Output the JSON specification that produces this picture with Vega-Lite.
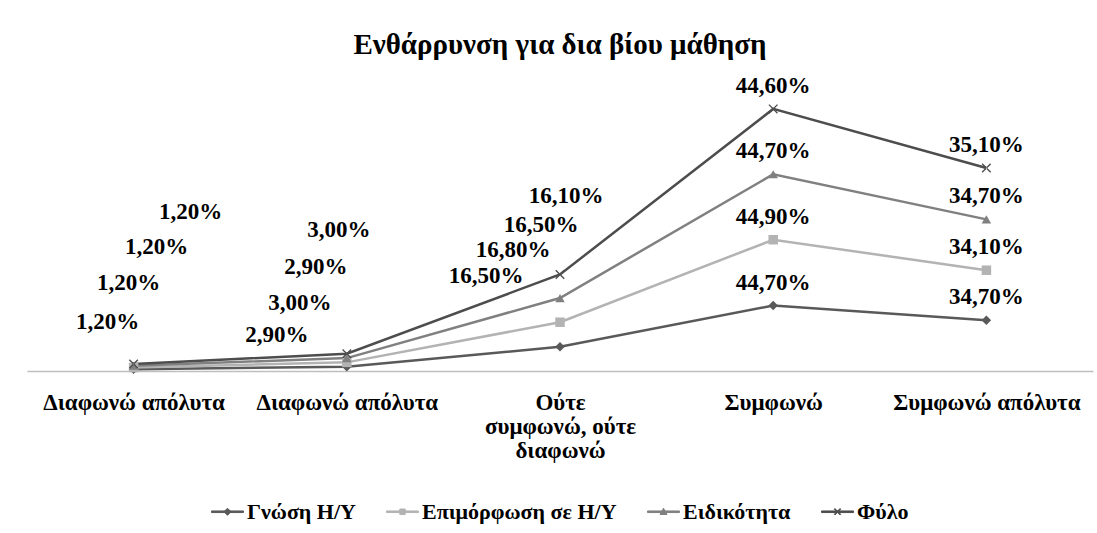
{
  "$schema": "https://vega.github.io/schema/vega-lite/v6.json",
  "width": 1066,
  "height": 293,
  "autosize": {"type": "none"},
  "padding": {"left": 27, "top": 78, "right": 4, "bottom": 162},
  "background": "white",
  "title": {"text": "Ενθάρρυνση για δια βίου μάθηση", "font": "Liberation Serif", "fontSize": 29, "fontWeight": "bold", "color": "black", "anchor": "middle", "offset": 15},
  "config": {
    "view": {"stroke": null},
    "axis": {"domainColor": "#bfbfbf", "domainWidth": 1.5, "ticks": false, "grid": false, "labelFont": "Liberation Serif", "labelFontSize": 23, "labelFontWeight": "bold", "labelColor": "black", "labelPadding": 20, "labelAngle": 0, "labelLineHeight": 24, "labelLimit": 0},
    "legend": {"labelFont": "Liberation Serif", "labelFontSize": 22, "labelFontWeight": "bold", "labelColor": "black", "labelLimit": 0, "layout": {"bottom": {"anchor": "middle"}}}
  },
  "data": {"values": [
    {"cat": "c1", "series": "Γνώση H/Y", "sidx": 0, "value": 1.2},
    {"cat": "c1", "series": "Επιμόρφωση σε H/Y", "sidx": 1, "value": 1.2},
    {"cat": "c1", "series": "Ειδικότητα", "sidx": 2, "value": 1.2},
    {"cat": "c1", "series": "Φύλο", "sidx": 3, "value": 1.2},
    {"cat": "c2", "series": "Γνώση H/Y", "sidx": 0, "value": 2.9},
    {"cat": "c2", "series": "Επιμόρφωση σε H/Y", "sidx": 1, "value": 3.0},
    {"cat": "c2", "series": "Ειδικότητα", "sidx": 2, "value": 2.9},
    {"cat": "c2", "series": "Φύλο", "sidx": 3, "value": 3.0},
    {"cat": "c3", "series": "Γνώση H/Y", "sidx": 0, "value": 16.5},
    {"cat": "c3", "series": "Επιμόρφωση σε H/Y", "sidx": 1, "value": 16.8},
    {"cat": "c3", "series": "Ειδικότητα", "sidx": 2, "value": 16.5},
    {"cat": "c3", "series": "Φύλο", "sidx": 3, "value": 16.1},
    {"cat": "c4", "series": "Γνώση H/Y", "sidx": 0, "value": 44.7},
    {"cat": "c4", "series": "Επιμόρφωση σε H/Y", "sidx": 1, "value": 44.9},
    {"cat": "c4", "series": "Ειδικότητα", "sidx": 2, "value": 44.7},
    {"cat": "c4", "series": "Φύλο", "sidx": 3, "value": 44.6},
    {"cat": "c5", "series": "Γνώση H/Y", "sidx": 0, "value": 34.7},
    {"cat": "c5", "series": "Επιμόρφωση σε H/Y", "sidx": 1, "value": 34.1},
    {"cat": "c5", "series": "Ειδικότητα", "sidx": 2, "value": 34.7},
    {"cat": "c5", "series": "Φύλο", "sidx": 3, "value": 35.1}
  ]},
  "transform": [
    {"stack": "value", "groupby": ["cat"], "sort": [{"field": "sidx", "order": "ascending"}], "as": ["v0", "v1"]},
    {"calculate": "replace(format(datum.value, '.2f'), '.', ',') + '%'", "as": "lbl"}
  ],
  "encoding": {
    "x": {"field": "cat", "type": "ordinal", "scale": {"type": "point", "padding": 0.5}, "axis": {"title": null, "labelExpr": "datum.value == 'c1' ? 'Διαφωνώ απόλυτα' : datum.value == 'c2' ? 'Διαφωνώ απόλυτα' : datum.value == 'c3' ? ['Ούτε', 'συμφωνώ, ούτε', 'διαφωνώ'] : datum.value == 'c4' ? 'Συμφωνώ' : 'Συμφωνώ απόλυτα'"}},
    "y": {"field": "v1", "type": "quantitative", "scale": {"domain": [0, 200], "nice": false, "zero": true}, "axis": null}
  },
  "layer": [
    {
      "mark": {"type": "line", "strokeWidth": 2.5},
      "encoding": {
        "color": {"field": "series", "type": "nominal", "scale": {"domain": ["Γνώση H/Y", "Επιμόρφωση σε H/Y", "Ειδικότητα", "Φύλο"], "range": ["#595959", "#b3b3b3", "#808080", "#4d4d4d"]}, "legend": {"orient": "bottom", "direction": "horizontal", "title": null, "symbolSize": 1024, "symbolStrokeWidth": 1, "labelOffset": 3, "columnPadding": 28, "offset": 33, "symbolType": {"expr": "datum.value == 'Γνώση H/Y' ? 'M-1,-0.05H1V0.05H-1Z M0,-0.22L0.22,0L0,0.22L-0.22,0Z' : datum.value == 'Επιμόρφωση σε H/Y' ? 'M-1,-0.05H1V0.05H-1Z M-0.17,-0.17H0.17V0.17H-0.17Z' : datum.value == 'Ειδικότητα' ? 'M-1,-0.05H1V0.05H-1Z M0,-0.22L0.22,0.17L-0.22,0.17Z' : 'M-1,-0.05H1V0.05H-1Z M-0.2,-0.16L-0.16,-0.2L0.2,0.16L0.16,0.2Z M0.2,-0.16L0.16,-0.2L-0.2,0.16L-0.16,0.2Z'"}}},
        "order": {"field": "cat"}
      }
    },
    {
      "mark": {"type": "point", "filled": true, "opacity": 1, "size": 90},
      "encoding": {
        "color": {"field": "series", "type": "nominal", "legend": {"orient": "bottom", "direction": "horizontal", "title": null, "symbolSize": 1024, "symbolStrokeWidth": 1, "labelOffset": 3, "columnPadding": 28, "offset": 33, "symbolType": {"expr": "datum.value == 'Γνώση H/Y' ? 'M-1,-0.05H1V0.05H-1Z M0,-0.22L0.22,0L0,0.22L-0.22,0Z' : datum.value == 'Επιμόρφωση σε H/Y' ? 'M-1,-0.05H1V0.05H-1Z M-0.17,-0.17H0.17V0.17H-0.17Z' : datum.value == 'Ειδικότητα' ? 'M-1,-0.05H1V0.05H-1Z M0,-0.22L0.22,0.17L-0.22,0.17Z' : 'M-1,-0.05H1V0.05H-1Z M-0.2,-0.16L-0.16,-0.2L0.2,0.16L0.16,0.2Z M0.2,-0.16L0.16,-0.2L-0.2,0.16L-0.16,0.2Z'"}}},
        "shape": {"field": "sidx", "type": "nominal", "scale": {"domain": [0, 1, 2, 3], "range": ["diamond", "square", "triangle-up", "M-1,-0.8L-0.8,-1L1,0.8L0.8,1Z M1,-0.8L0.8,-1L-1,0.8L-0.8,1Z"]}, "legend": null}
      }
    },
    {
      "transform": [{"filter": "datum.cat == 'c4' || datum.cat == 'c5'"}],
      "mark": {"type": "text", "font": "Liberation Serif", "fontSize": 23, "fontWeight": "bold", "color": "black", "dy": -23},
      "encoding": {"text": {"field": "lbl"}}
    },
    {"transform": [{"filter": "datum.cat == 'c1' && datum.sidx == 0"}], "mark": {"type": "text", "font": "Liberation Serif", "fontSize": 23, "fontWeight": "bold", "color": "black", "dx": -26, "dy": -47}, "encoding": {"text": {"field": "lbl"}}},
    {"transform": [{"filter": "datum.cat == 'c1' && datum.sidx == 1"}], "mark": {"type": "text", "font": "Liberation Serif", "fontSize": 23, "fontWeight": "bold", "color": "black", "dx": -5, "dy": -84}, "encoding": {"text": {"field": "lbl"}}},
    {"transform": [{"filter": "datum.cat == 'c1' && datum.sidx == 2"}], "mark": {"type": "text", "font": "Liberation Serif", "fontSize": 23, "fontWeight": "bold", "color": "black", "dx": 23, "dy": -119}, "encoding": {"text": {"field": "lbl"}}},
    {"transform": [{"filter": "datum.cat == 'c1' && datum.sidx == 3"}], "mark": {"type": "text", "font": "Liberation Serif", "fontSize": 23, "fontWeight": "bold", "color": "black", "dx": 57, "dy": -152}, "encoding": {"text": {"field": "lbl"}}},
    {"transform": [{"filter": "datum.cat == 'c2' && datum.sidx == 0"}], "mark": {"type": "text", "font": "Liberation Serif", "fontSize": 23, "fontWeight": "bold", "color": "black", "dx": -70, "dy": -32}, "encoding": {"text": {"field": "lbl"}}},
    {"transform": [{"filter": "datum.cat == 'c2' && datum.sidx == 1"}], "mark": {"type": "text", "font": "Liberation Serif", "fontSize": 23, "fontWeight": "bold", "color": "black", "dx": -47, "dy": -59}, "encoding": {"text": {"field": "lbl"}}},
    {"transform": [{"filter": "datum.cat == 'c2' && datum.sidx == 2"}], "mark": {"type": "text", "font": "Liberation Serif", "fontSize": 23, "fontWeight": "bold", "color": "black", "dx": -31, "dy": -91}, "encoding": {"text": {"field": "lbl"}}},
    {"transform": [{"filter": "datum.cat == 'c2' && datum.sidx == 3"}], "mark": {"type": "text", "font": "Liberation Serif", "fontSize": 23, "fontWeight": "bold", "color": "black", "dx": -8, "dy": -124}, "encoding": {"text": {"field": "lbl"}}},
    {"transform": [{"filter": "datum.cat == 'c3' && datum.sidx == 0"}], "mark": {"type": "text", "font": "Liberation Serif", "fontSize": 23, "fontWeight": "bold", "color": "black", "dx": -74, "dy": -71}, "encoding": {"text": {"field": "lbl"}}},
    {"transform": [{"filter": "datum.cat == 'c3' && datum.sidx == 1"}], "mark": {"type": "text", "font": "Liberation Serif", "fontSize": 23, "fontWeight": "bold", "color": "black", "dx": -47, "dy": -72}, "encoding": {"text": {"field": "lbl"}}},
    {"transform": [{"filter": "datum.cat == 'c3' && datum.sidx == 2"}], "mark": {"type": "text", "font": "Liberation Serif", "fontSize": 23, "fontWeight": "bold", "color": "black", "dx": -19, "dy": -73}, "encoding": {"text": {"field": "lbl"}}},
    {"transform": [{"filter": "datum.cat == 'c3' && datum.sidx == 3"}], "mark": {"type": "text", "font": "Liberation Serif", "fontSize": 23, "fontWeight": "bold", "color": "black", "dx": 6, "dy": -78}, "encoding": {"text": {"field": "lbl"}}}
  ]
}
